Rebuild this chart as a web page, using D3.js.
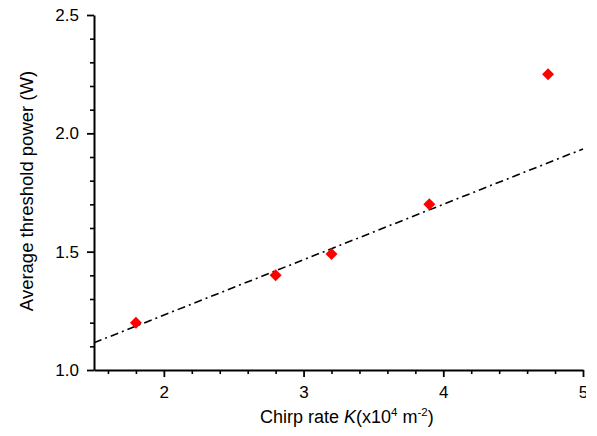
<!DOCTYPE html>
<html>
<head>
<meta charset="utf-8">
<script src="https://cdn.jsdelivr.net/npm/d3@7"></script>
<style>
  html, body { margin: 0; padding: 0; background: #fff; }
  svg { display: block; }
  text { font-family: "Liberation Sans", Arial, sans-serif; fill: #000; }
</style>
</head>
<body>
<script>
// Measured threshold power against chirp rate
const chirpRate = [1.8, 2.8, 3.2, 3.9, 4.75];
const thresholdPower = [1.2, 1.40, 1.49, 1.70, 2.25];

// Linear fit line, drawn across the whole x range
const fitX = [1.5, 5.0];
const fitY = [1.115, 1.934];

const xMajorTicks = [2, 3, 4, 5];
const xMinorTicks = [1.6, 1.8, 2.2, 2.4, 2.6, 2.8, 3.2, 3.4, 3.6, 3.8, 4.2, 4.4, 4.6, 4.8];
const yMajorTicks = [1.0, 1.5, 2.0, 2.5];
const yMinorTicks = [1.1, 1.2, 1.3, 1.4, 1.6, 1.7, 1.8, 1.9, 2.1, 2.2, 2.3, 2.4];

const W = 586, H = 436;
const m = { left: 94, right: 3, top: 15, bottom: 66 };

const svg = d3.select("body").append("svg")
  .attr("width", W).attr("height", H);

const x = d3.scaleLinear().domain([1.5, 5]).range([m.left, W - m.right]);
const y = d3.scaleLinear().domain([1.0, 2.5]).range([H - m.bottom, m.top]);

// Minor ticks (no labels)
svg.append("g")
  .attr("transform", `translate(0,${H - m.bottom})`)
  .call(d3.axisBottom(x).tickValues(xMinorTicks).tickSize(4).tickFormat(""))
  .call(g => g.select(".domain").remove())
  .call(g => g.selectAll("line").attr("stroke-width", 1.6));

svg.append("g")
  .attr("transform", `translate(${m.left},0)`)
  .call(d3.axisLeft(y).tickValues(yMinorTicks).tickSize(4).tickFormat(""))
  .call(g => g.select(".domain").remove())
  .call(g => g.selectAll("line").attr("stroke-width", 1.6));

// Major axes
const xAxis = svg.append("g")
  .attr("transform", `translate(0,${H - m.bottom})`)
  .call(d3.axisBottom(x).tickValues(xMajorTicks).tickSize(7).tickSizeOuter(0).tickPadding(9).tickFormat(d3.format("d")));
xAxis.select(".domain").attr("stroke-width", 2);
xAxis.selectAll(".tick line").attr("stroke-width", 1.8);
xAxis.selectAll("text").style("font-size", "17px").style("fill", "#000");

const yAxis = svg.append("g")
  .attr("transform", `translate(${m.left},0)`)
  .call(d3.axisLeft(y).tickValues(yMajorTicks).tickSize(7).tickSizeOuter(0).tickPadding(8).tickFormat(d3.format(".1f")));
yAxis.select(".domain").attr("stroke-width", 2);
yAxis.selectAll(".tick line").attr("stroke-width", 1.8);
yAxis.selectAll("text").style("font-size", "17px").style("fill", "#000");

// Fit line
const fit = fitX.map((d, i) => [d, fitY[i]]);
svg.append("path")
  .datum(fit)
  .attr("fill", "none")
  .attr("stroke", "#000")
  .attr("stroke-width", 1.6)
  .attr("stroke-dasharray", "8,4,2,4")
  .attr("d", d3.line().x(d => x(d[0])).y(d => y(d[1])));

// Data markers (red diamonds)
const pts = chirpRate.map((d, i) => [d, thresholdPower[i]]);
svg.append("g").selectAll("path")
  .data(pts)
  .join("path")
  .attr("transform", d => `translate(${x(d[0])},${y(d[1])}) rotate(45)`)
  .attr("d", d3.symbol(d3.symbolSquare, 72))
  .attr("fill", "#ff0000");

// Axis titles
const xt = svg.append("text")
  .attr("x", 260).attr("y", 423)
  .attr("text-anchor", "start")
  .style("font-size", "18px");
xt.append("tspan").text("Chirp rate ");
xt.append("tspan").style("font-style", "italic").text("K");
xt.append("tspan").text("(x10");
xt.append("tspan").attr("dy", -7).style("font-size", "11.5px").text("4");
xt.append("tspan").attr("dy", 7).text(" m");
xt.append("tspan").attr("dy", -7).style("font-size", "11.5px").text("-2");
xt.append("tspan").attr("dy", 7).text(")");

svg.append("text")
  .attr("transform", `translate(33,${191}) rotate(-90)`)
  .attr("text-anchor", "middle")
  .style("font-size", "18.5px")
  .text("Average threshold power (W)");
</script>
</body>
</html>
